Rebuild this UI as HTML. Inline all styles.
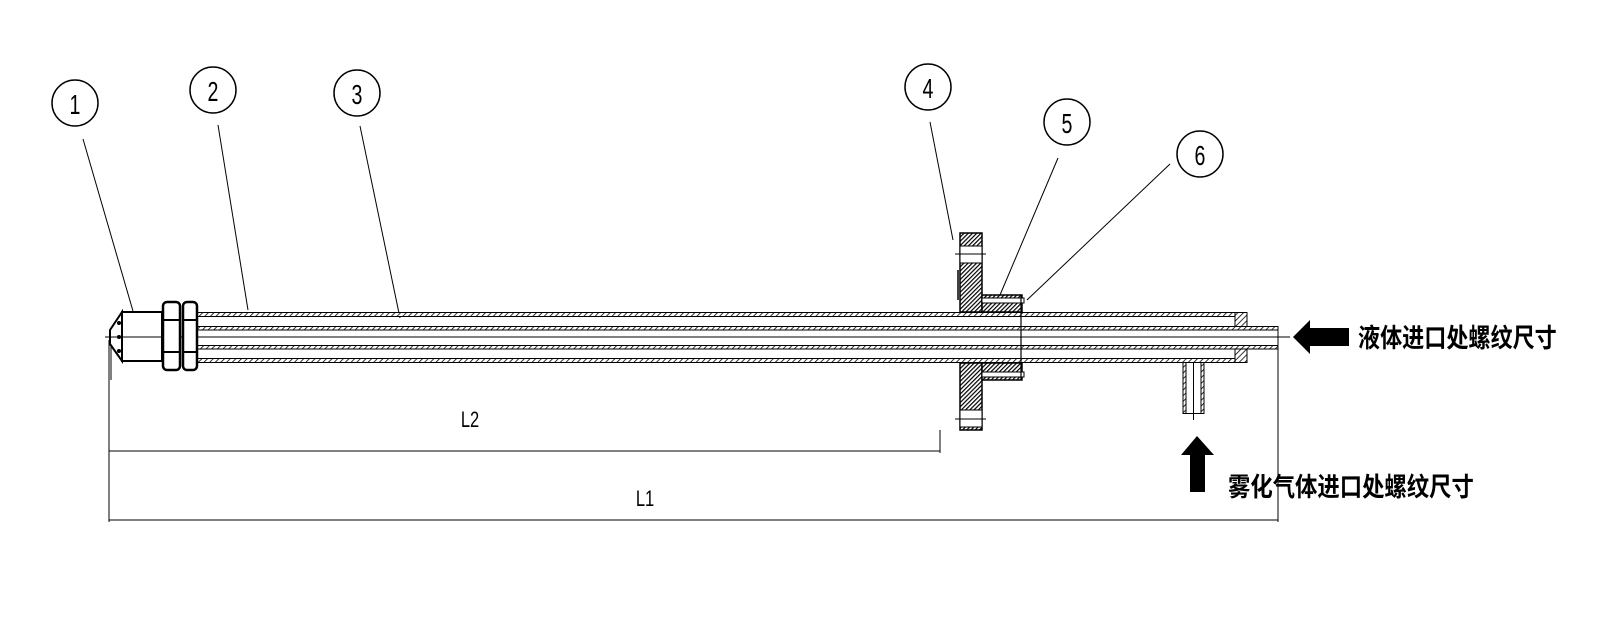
<!DOCTYPE html>
<html><head><meta charset="utf-8"><style>
html,body{margin:0;padding:0;background:#fff}
svg{display:block}
.n{font-family:"Liberation Sans Narrow","Liberation Sans",sans-serif;font-size:28px;}
.c{font-family:"Liberation Sans","Noto Sans CJK SC",sans-serif;font-size:26px;font-weight:bold}
</style></head><body>
<svg width="1600" height="634" viewBox="0 0 1600 634" xmlns="http://www.w3.org/2000/svg">
<defs>
<pattern id="h" width="4" height="4" patternUnits="userSpaceOnUse" patternTransform="rotate(45)">
<rect width="4" height="4" fill="#fff"/><line x1="0" y1="0" x2="0" y2="4" stroke="#000" stroke-width="1.6"/>
</pattern>
<pattern id="hd" width="3" height="3" patternUnits="userSpaceOnUse" patternTransform="rotate(45)">
<rect width="3" height="3" fill="#fff"/><line x1="0" y1="0" x2="0" y2="3" stroke="#000" stroke-width="2.4"/>
</pattern>
</defs>
<g stroke="#000" fill="none">
<circle cx="75" cy="103" r="23" stroke-width="1.5"/>
<circle cx="213" cy="90" r="23" stroke-width="1.5"/>
<circle cx="357" cy="93" r="23" stroke-width="1.5"/>
<circle cx="928" cy="87" r="23" stroke-width="1.5"/>
<circle cx="1067" cy="122" r="23" stroke-width="1.5"/>
<circle cx="1200" cy="154" r="23" stroke-width="1.5"/>
<g stroke-width="1">
<line x1="83" y1="139" x2="135" y2="318"/>
<line x1="218" y1="125" x2="248" y2="310"/>
<line x1="360" y1="126" x2="400" y2="318"/>
<line x1="930" y1="122" x2="953" y2="240"/>
<line x1="1058" y1="158" x2="1000" y2="295"/>
<line x1="1170" y1="164" x2="1027" y2="300"/>
</g>
<rect x="197" y="312.5" width="1038" height="4" fill="url(#h)" stroke-width="1"/>
<rect x="197" y="358.5" width="1038" height="4" fill="url(#h)" stroke-width="1"/>
<rect x="1235" y="312.5" width="12" height="17" fill="url(#h)" stroke-width="1"/>
<rect x="1235" y="345.5" width="12" height="17" fill="url(#h)" stroke-width="1"/>
<rect x="197" y="326.5" width="1081" height="3.5" fill="url(#h)" stroke-width="1"/>
<rect x="197" y="345.5" width="1081" height="3.5" fill="url(#h)" stroke-width="1"/>
<line x1="1278" y1="326" x2="1278" y2="349" stroke-width="1"/>
<line x1="105" y1="337" x2="1290" y2="337" stroke-width="1"/>
<polygon points="122,312 110,330 110,344 122,361" stroke-width="2" fill="#fff"/>
<rect x="122" y="312" width="40" height="49" stroke-width="2" fill="#fff"/>
<line x1="110" y1="337" x2="197" y2="337" stroke-width="1"/>
<rect x="163" y="302" width="17" height="68" rx="4" stroke-width="2.5" fill="#fff"/>
<rect x="183" y="302" width="14" height="68" rx="4" stroke-width="2.5" fill="#fff"/>
<line x1="163" y1="320" x2="180" y2="320" stroke-width="2"/><line x1="163" y1="352" x2="180" y2="352" stroke-width="2"/>
<line x1="183" y1="320" x2="197" y2="320" stroke-width="2"/><line x1="183" y1="352" x2="197" y2="352" stroke-width="2"/>
<g fill="#000" stroke="none"><circle cx="119" cy="323" r="2"/><circle cx="119" cy="337" r="2"/><circle cx="119" cy="351" r="2"/></g>
<line x1="111" y1="345" x2="111" y2="380" stroke-width="1"/>
<rect x="960" y="233" width="22" height="79" fill="url(#hd)" stroke-width="1.5"/>
<rect x="960" y="363" width="22" height="67" fill="url(#hd)" stroke-width="1.5"/>
<rect x="960" y="246" width="22" height="17" fill="#fff" stroke-width="1"/>
<rect x="960" y="410" width="22" height="17" fill="#fff" stroke-width="1"/>
<line x1="955" y1="254" x2="986" y2="254" stroke-width="1"/>
<line x1="955" y1="419" x2="986" y2="419" stroke-width="1"/>
<rect x="982" y="295" width="40" height="17" fill="url(#hd)" stroke-width="1.5"/>
<rect x="982" y="363" width="40" height="17" fill="url(#hd)" stroke-width="1.5"/>
<rect x="982" y="298" width="42" height="5" fill="#fff" stroke-width="1"/>
<rect x="982" y="372" width="42" height="5" fill="#fff" stroke-width="1"/>
<line x1="1021" y1="295" x2="1021" y2="380" stroke-width="1.2"/>
<line x1="958" y1="270" x2="958" y2="300" stroke-width="1.5"/>
<rect x="1183" y="362.5" width="21" height="51" fill="url(#h)" stroke-width="1"/>
<rect x="1186" y="362.5" width="15" height="51" fill="#fff" stroke-width="1"/>
<line x1="1193.5" y1="362" x2="1193.5" y2="420" stroke-width="1"/>
<g stroke-width="1">
<line x1="109" y1="340" x2="109" y2="522"/>
<line x1="940" y1="430" x2="940" y2="453"/>
<line x1="1278" y1="337" x2="1278" y2="522"/>
<line x1="109" y1="451" x2="940" y2="451"/>
<line x1="109" y1="520" x2="1278" y2="520"/>
</g>
</g>
<polygon points="1293,337 1310,320 1310,328 1349,328 1349,346 1310,346 1310,354" fill="#000"/>
<polygon points="1197,436 1214,455 1205,455 1205,492 1190,492 1190,455 1181,455" fill="#000"/>
<g class="n" text-anchor="middle">
<text x="75" y="114" transform="translate(75 0) scale(0.7 1) translate(-75 0)">1</text>
<text x="213" y="101" transform="translate(213 0) scale(0.7 1) translate(-213 0)">2</text>
<text x="357" y="104" transform="translate(357 0) scale(0.7 1) translate(-357 0)">3</text>
<text x="928" y="98" transform="translate(928 0) scale(0.7 1) translate(-928 0)">4</text>
<text x="1067" y="133" transform="translate(1067 0) scale(0.7 1) translate(-1067 0)">5</text>
<text x="1200" y="165" transform="translate(1200 0) scale(0.7 1) translate(-1200 0)">6</text>
<text x="470" y="427" style="font-size:22px" transform="translate(470 0) scale(0.75 1) translate(-470 0)">L2</text>
<text x="645" y="506" style="font-size:22px" transform="translate(645 0) scale(0.75 1) translate(-645 0)">L1</text>
</g>
<text class="c" x="1358" y="347" transform="translate(1358 0) scale(0.85 1) translate(-1358 0)">液体进口处螺纹尺寸</text>
<text class="c" x="1228" y="496" transform="translate(1228 0) scale(0.86 1) translate(-1228 0)">雾化气体进口处螺纹尺寸</text>
</svg>
</body></html>
